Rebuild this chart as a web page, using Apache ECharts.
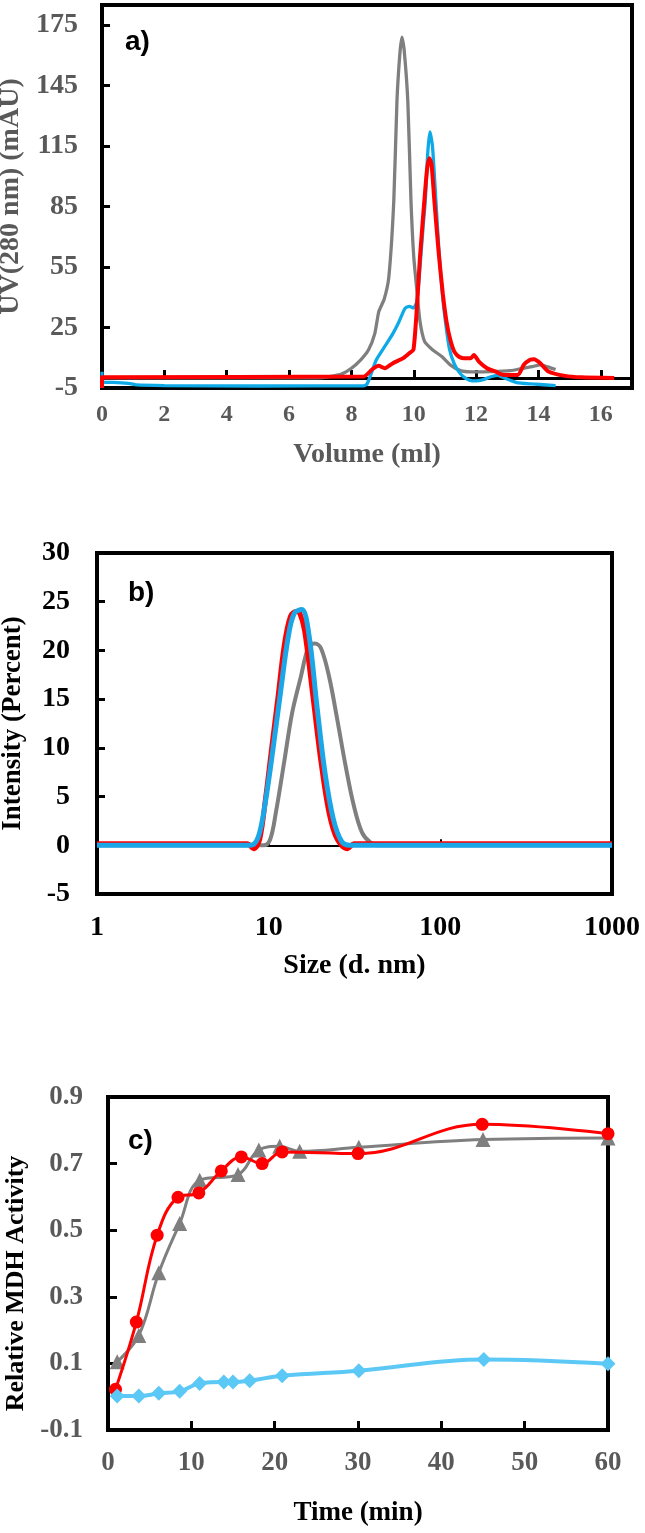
<!DOCTYPE html>
<html><head><meta charset="utf-8">
<script src="https://cdn.jsdelivr.net/npm/echarts@6.0.0/dist/echarts.min.js"></script>
<style>html,body{margin:0;padding:0;background:#fff}#c{width:645px;height:1533px}</style>
</head><body><div id="c"></div><script>
// ---------- Panel a: SEC chromatogram ----------
const volTicks = [0, 2, 4, 6, 8, 10, 12, 14, 16];
const uvTicks = [-5, 25, 55, 85, 115, 145, 175];
const grayVol = [0, 6.9, 7.3, 7.7, 8.0, 8.3, 8.55, 8.75, 8.88, 9.05, 9.2, 9.36, 9.46, 9.55, 9.62, 9.69, 9.81, 9.91, 10.0, 10.1, 10.2, 10.35, 10.6, 10.9, 11.17, 11.5, 11.83, 12.5, 13.1, 13.5, 13.8, 14.05, 14.3, 14.55];
const grayUV  = [0, 0, 0.6, 2, 4.8, 9, 14, 22, 33, 39, 50, 88, 137, 160, 169, 163, 137, 88, 60, 43.5, 28, 18, 14, 10.6, 6.5, 3.6, 3, 3.1, 3.6, 4.8, 5.6, 6.5, 5.5, 4.2];
const blueVol = [0, 0.03, 0.5, 0.9, 1.1, 2, 5, 8.4, 8.5, 8.6, 8.8, 9.07, 9.33, 9.53, 9.72, 9.86, 9.99, 10.1, 10.2, 10.3, 10.37, 10.45, 10.52, 10.6, 10.71, 10.8, 10.9, 11.0, 11.15, 11.3, 11.45, 11.6, 11.8, 12.0, 12.2, 12.5, 12.7, 12.9, 13.3, 13.8, 14.55];
const blueUV  = [3, -2, -2.3, -2.8, -3.5, -3.8, -4.0, -3.9, -3, 0.7, 9, 15.6, 22, 28, 34.5, 35.5, 34.7, 38, 55, 75, 88, 112, 122, 115, 88, 65, 45, 30, 14, 7, 3, 0.5, -1.2, -1.5, -1, 0.7, 1.3, 0, -2.3, -3, -3.8];
const redVol  = [0, 0, 8.4, 8.67, 8.87, 9.07, 9.33, 9.66, 9.86, 9.99, 10.1, 10.2, 10.34, 10.43, 10.5, 10.57, 10.66, 10.8, 10.93, 11.05, 11.17, 11.3, 11.45, 11.6, 11.83, 11.93, 12.09, 12.35, 12.61, 12.88, 13.34, 13.53, 13.73, 13.86, 14.06, 14.32, 14.85, 15.37, 16.43];
const redUV   = [-5, 0.3, 0.7, 4.3, 6, 4.8, 7.3, 9.8, 12.3, 14, 35, 60, 88, 104, 109, 106, 88, 62, 42, 28, 19, 13, 10.5, 9.8, 9.8, 11.4, 8.1, 4.8, 3.2, 1.5, 1.5, 6.5, 9, 9.3, 7.3, 3.2, 1, 0.3, 0];

// ---------- Panel b: DLS size distribution ----------
const sizeTicks = [1, 10, 100, 1000];
const intTicks = [-5, 0, 5, 10, 15, 20, 25, 30];
const graySize = [1, 9.36, 10.2, 11.0, 12.3, 13.7, 15.4, 17.1, 18.6, 20.2, 22.5, 25.1, 28.1, 31.4, 35.0, 39.1, 43.6, 1000];
const grayInt  = [0, 0, 0.6, 3.3, 8.5, 13.6, 17.3, 20.4, 20.7, 20.2, 17.3, 12.9, 8.1, 4.0, 1.3, 0.3, 0, 0];
const redSize  = [1, 7.5, 8.17, 8.86, 9.62, 10.45, 11.35, 12.3, 13.4, 14.5, 15.2, 16.2, 18.1, 20.2, 22.5, 25.1, 28.8, 31.4, 1000];
const redInt   = [0.15, 0.15, -0.35, 0.6, 5, 10.2, 15.3, 20.4, 23.5, 24, 23.8, 22, 15.3, 8.5, 3.3, 0.6, -0.35, 0.15, 0.15];
const blueSize = [1, 7.5, 8.17, 8.86, 9.62, 10.45, 11.7, 13.0, 14.1, 15.6, 17.1, 19.1, 21.3, 23.8, 26.6, 29.7, 1000];
const blueInt  = [0, 0, 0.1, 1.3, 4.7, 9.1, 15.6, 21.4, 23.8, 24.2, 21.8, 14.3, 7.4, 2.7, 0.4, 0, 0];

// ---------- Panel c: MDH reactivation ----------
const timeTicks = [0, 10, 20, 30, 40, 50, 60];
const actTicks = [-0.1, 0.1, 0.3, 0.5, 0.7, 0.9];
const redTime  = [0.9, 3.4, 5.9, 8.4, 10.9, 13.6, 16.0, 18.5, 20.9, 30.0, 44.9, 60];
const redAct   = [0.022, 0.224, 0.485, 0.599, 0.612, 0.678, 0.72, 0.70, 0.735, 0.73, 0.818, 0.79];
const grayTime = [1.1, 3.7, 6.1, 8.6, 11.0, 15.6, 18.1, 20.6, 23.0, 30.1, 45.0, 60];
const grayAct  = [0.105, 0.184, 0.372, 0.52, 0.65, 0.667, 0.741, 0.752, 0.737, 0.749, 0.772, 0.777];
const blueTime = [1.1, 3.7, 6.1, 8.6, 11.0, 13.9, 15.0, 17.0, 20.9, 30.1, 45.1, 60];
const blueAct  = [0.002, 0.002, 0.01, 0.016, 0.04, 0.044, 0.044, 0.048, 0.063, 0.078, 0.112, 0.099];

const zip = (xs, ys) => xs.map((x, i) => [x, ys[i]]);
const SERIF = '"Liberation Serif", "Times New Roman", serif';
const GRAYTXT = '#595959';
const tickSet = arr => v => arr.some(t => Math.abs(t - v) < 1e-6);

function lbl(color, size, margin, list, fmt) {
  const has = tickSet(list);
  return { color, fontSize: size, fontFamily: SERIF, fontWeight: 'bold', margin,
    formatter: v => has(v) ? (fmt ? fmt(v) : String(v)) : '' };
}
function nameStyle(color, size, pad) {
  const s = { color, fontSize: size, fontFamily: SERIF, fontWeight: 'bold' };
  if (pad) s.padding = pad;
  return s;
}

const chart = echarts.init(document.getElementById('c'), null, { renderer: 'canvas' });
const gridBase = { show: true, borderColor: '#000', borderWidth: 4, backgroundColor: '#fff', containLabel: false, outerBoundsMode: 'none' };

chart.setOption({
  animation: false,
  backgroundColor: '#fff',
  grid: [
    Object.assign({ left: 102, top: 5, width: 530, height: 383 }, gridBase),
    Object.assign({ left: 97, top: 553, width: 515, height: 341 }, gridBase),
    Object.assign({ left: 108, top: 1097, width: 500, height: 333 }, gridBase)
  ],
  xAxis: [
    { gridIndex: 0, type: 'value', min: 0, max: 17, interval: 2, position: 'bottom',
      axisLine: { onZero: false, lineStyle: { color: '#000', width: 4 } }, axisTick: { show: false },
      splitLine: { show: false }, axisLabel: lbl(GRAYTXT, 24, 15, volTicks),
      name: 'Volume (ml)', nameLocation: 'middle', nameGap: 53, nameTextStyle: nameStyle(GRAYTXT, 28) },
    { gridIndex: 0, type: 'value', min: 0, max: 17, interval: 2, position: 'bottom',
      axisLine: { onZero: true, lineStyle: { color: '#000', width: 3 } },
      axisTick: { inside: true, length: 8, lineStyle: { color: '#000', width: 3 } },
      axisLabel: { show: false }, splitLine: { show: false } },
    { gridIndex: 1, type: 'log', logBase: 10, min: 1, max: 1000, position: 'bottom',
      axisLine: { onZero: false, lineStyle: { color: '#000', width: 4 } }, axisTick: { show: false },
      splitLine: { show: false }, minorTick: { show: false },
      axisLabel: lbl('#000', 28, 20, sizeTicks),
      name: 'Size (d. nm)', nameLocation: 'middle', nameGap: 58, nameTextStyle: nameStyle('#000', 28) },
    { gridIndex: 1, type: 'log', logBase: 10, min: 1, max: 1000, position: 'bottom',
      axisLine: { onZero: true, lineStyle: { color: '#000', width: 2 } },
      axisTick: { inside: true, length: 6, lineStyle: { color: '#000', width: 2 } },
      axisLabel: { show: false }, splitLine: { show: false } },
    { gridIndex: 2, type: 'value', min: 0, max: 60, interval: 10, position: 'bottom',
      axisLine: { onZero: false, lineStyle: { color: '#000', width: 4 } },
      axisTick: { inside: true, length: 9, lineStyle: { color: '#000', width: 3 } },
      splitLine: { show: false }, axisLabel: lbl(GRAYTXT, 27, 20, timeTicks),
      name: 'Time (min)', nameLocation: 'middle', nameGap: 70, nameTextStyle: nameStyle('#000', 27) }
  ],
  yAxis: [
    { gridIndex: 0, type: 'value', min: -5, max: 185, interval: 30,
      axisLine: { onZero: false, lineStyle: { color: '#000', width: 4 } },
      axisTick: { inside: true, length: 8, lineStyle: { color: '#000', width: 3 } },
      splitLine: { show: false }, axisLabel: lbl(GRAYTXT, 28, 24, uvTicks),
      name: 'UV(280 nm) (mAU)', nameLocation: 'middle', nameGap: 75, nameTextStyle: nameStyle(GRAYTXT, 28) },
    { gridIndex: 1, type: 'value', min: -5, max: 30, interval: 5,
      axisLine: { onZero: false, lineStyle: { color: '#000', width: 4 } },
      axisTick: { inside: true, length: 8, lineStyle: { color: '#000', width: 3 } },
      splitLine: { show: false }, axisLabel: lbl('#000', 28, 27, intTicks),
      name: 'Intensity (Percent)', nameLocation: 'middle', nameGap: 70, nameTextStyle: nameStyle('#000', 27) },
    { gridIndex: 2, type: 'value', min: -0.1, max: 0.9, interval: 0.2,
      axisLine: { onZero: false, lineStyle: { color: '#000', width: 4 } },
      axisTick: { inside: true, length: 9, lineStyle: { color: '#000', width: 3 } },
      splitLine: { show: false }, axisLabel: lbl(GRAYTXT, 27, 25, actTicks, v => v.toFixed(1)),
      name: 'Relative MDH Activity', nameLocation: 'middle', nameGap: 67, nameTextStyle: nameStyle('#000', 26, [0, 40, 0, 0]) }
  ],
  graphic: [
    { type: 'text', left: 125, top: 28, style: { text: 'a)', font: 'bold 28px "Liberation Sans", Arial, sans-serif', fill: '#000' } },
    { type: 'text', left: 128, top: 579, style: { text: 'b)', font: 'bold 28px "Liberation Sans", Arial, sans-serif', fill: '#000' } },
    { type: 'text', left: 128, top: 1127, style: { text: 'c)', font: 'bold 28px "Liberation Sans", Arial, sans-serif', fill: '#000' } }
  ],
  series: [
    { type: 'line', xAxisIndex: 0, yAxisIndex: 0, data: zip(grayVol, grayUV), showSymbol: false, smooth: 0.2, lineStyle: { color: '#7F7F7F', width: 3.3 }, z: 3 },
    { type: 'line', xAxisIndex: 0, yAxisIndex: 0, data: zip(blueVol, blueUV), showSymbol: false, smooth: 0.2, lineStyle: { color: '#0EAAE8', width: 3.3 }, z: 4 },
    { type: 'line', xAxisIndex: 0, yAxisIndex: 0, data: zip(redVol, redUV), showSymbol: false, smooth: 0.2, lineStyle: { color: '#FF0000', width: 4 }, z: 5 },

    { type: 'line', xAxisIndex: 2, yAxisIndex: 1, data: zip(graySize, grayInt), showSymbol: false, smooth: 0.35, lineStyle: { color: '#7F7F7F', width: 4 }, z: 3 },
    { type: 'line', xAxisIndex: 2, yAxisIndex: 1, data: zip(redSize, redInt), showSymbol: false, smooth: 0.35, lineStyle: { color: '#FF0000', width: 5 }, z: 4 },
    { type: 'line', xAxisIndex: 2, yAxisIndex: 1, data: zip(blueSize, blueInt), showSymbol: false, smooth: 0.35, lineStyle: { color: '#1BA6E8', width: 5 }, z: 5 },

    { type: 'line', xAxisIndex: 4, yAxisIndex: 2, data: zip(grayTime, grayAct), smooth: 0.4, symbol: 'triangle', symbolSize: 15, itemStyle: { color: '#7F7F7F' }, lineStyle: { color: '#7F7F7F', width: 3 }, z: 3 },
    { type: 'line', xAxisIndex: 4, yAxisIndex: 2, data: zip(redTime, redAct), smooth: 0.4, symbol: 'circle', symbolSize: 13, itemStyle: { color: '#FF0000' }, lineStyle: { color: '#FF0000', width: 3 }, z: 4 },
    { type: 'line', xAxisIndex: 4, yAxisIndex: 2, data: zip(blueTime, blueAct), smooth: 0.4, symbol: 'diamond', symbolSize: 15, itemStyle: { color: '#5CC8F5' }, lineStyle: { color: '#5CC8F5', width: 4 }, z: 5 }
  ]
});
</script></body></html>
